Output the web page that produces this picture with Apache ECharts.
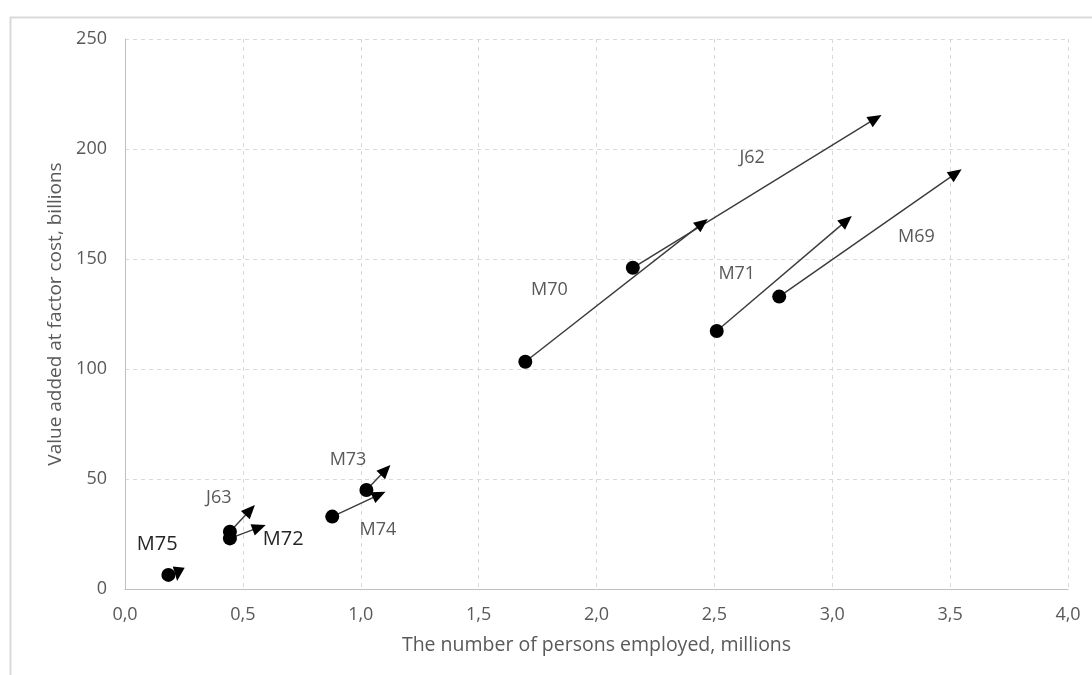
<!DOCTYPE html>
<html>
<head>
<meta charset="utf-8">
<script src="https://cdn.jsdelivr.net/npm/echarts@6/dist/echarts.min.js"></script>
<style>html,body{margin:0;padding:0;background:#fff}#c{width:1092px;height:675px}</style>
</head>
<body>
<div id="c"></div>
<script>
// Industry codes
const names  = ['J62', 'M70', 'M71', 'M69', 'M73', 'M74', 'J63', 'M72', 'M75'];
// Start points (dots): persons employed (millions), value added (billions)
const startX = [2.154, 1.698, 2.510, 2.775, 1.024, 0.879, 0.445, 0.445, 0.184];
const startY = [146.0, 103.3, 117.3, 132.9, 45.0, 32.9, 26.0, 23.0, 6.4];
// Arrow tails (same as dots, except the tiny M75 arrow)
const tailX  = [2.154, 1.698, 2.510, 2.775, 1.024, 0.879, 0.445, 0.445, 0.228];
const tailY  = [146.0, 103.3, 117.3, 132.9, 45.0, 32.9, 26.0, 23.0, 10.0];
// End points (arrow tips)
const endX   = [3.209, 2.472, 3.083, 3.549, 1.126, 1.105, 0.551, 0.597, 0.221];
const endY   = [215.5, 168.2, 169.5, 190.8, 56.4, 44.2, 38.2, 29.1, 3.6];
// Label anchor positions (data coords)
const labelX = [2.66, 1.80, 2.595, 3.357, 0.946, 1.073, 0.398, 0.671, 0.137];
const labelY = [196.0, 136.0, 143.2, 159.9, 58.6, 26.8, 41.2, 22.6, 20.5];
const bigLabels = ['M72', 'M75'];
// Axis ticks
const xTicks = [0, 0.5, 1.0, 1.5, 2.0, 2.5, 3.0, 3.5, 4.0];
const yTicks = [0, 50, 100, 150, 200, 250];

const font = '"Open Sans", "Noto Sans", sans-serif';
const chart = echarts.init(document.getElementById('c'), null, {renderer: 'canvas'});

const arrowData = names.map((n, i) => [tailX[i], tailY[i], endX[i], endY[i]]);
const dotData = names.map((n, i) => [startX[i], startY[i]]);
const labelData = names.map((n, i) => ({
  value: [labelX[i], labelY[i]],
  name: n,
  label: bigLabels.includes(n) ? {fontSize: 20, color: '#262626'} : {}
}));

function renderArrow(params, api) {
  const s = api.coord([api.value(0), api.value(1)]);
  const e = api.coord([api.value(2), api.value(3)]);
  const dx = e[0] - s[0], dy = e[1] - s[1];
  const len = Math.sqrt(dx * dx + dy * dy) || 1;
  const ux = dx / len, uy = dy / len;
  const nx = -uy, ny = ux;
  const L = Math.min(14, len), W = 12;
  const bx = e[0] - ux * L, by = e[1] - uy * L;
  const children = [];
  if (len > L + 1) {
    children.push({type: 'line', shape: {x1: s[0], y1: s[1], x2: bx + ux * 2, y2: by + uy * 2},
      style: {stroke: '#3a3a3a', lineWidth: 1.4}});
  }
  children.push({type: 'polygon',
    shape: {points: [[e[0], e[1]], [bx + nx * W / 2, by + ny * W / 2], [bx - nx * W / 2, by - ny * W / 2]]},
    style: {fill: '#000'}});
  return {type: 'group', children: children};
}

chart.setOption({
  animation: false,
  backgroundColor: '#fff',
  graphic: [{
    type: 'rect', left: 8, top: 15, silent: true,
    shape: {width: 1100, height: 700},
    style: {fill: 'none', stroke: '#d9d9d9', lineWidth: 2}
  }],
  grid: {left: 125, right: 24, top: 39, bottom: 86, containLabel: false},
  xAxis: {
    type: 'value', min: xTicks[0], max: xTicks[xTicks.length - 1], interval: 0.5,
    name: 'The number of persons employed, millions',
    nameLocation: 'middle', nameGap: 46,
    nameTextStyle: {fontFamily: font, fontSize: 19.5, color: '#595959'},
    axisLine: {show: true, lineStyle: {color: '#bfbfbf', width: 1}},
    axisTick: {show: false},
    axisLabel: {fontFamily: font, fontSize: 18, color: '#595959', margin: 17,
      formatter: v => v.toFixed(1).replace('.', ',')},
    splitLine: {show: true, lineStyle: {color: '#d9d9d9', type: [4, 4]}}
  },
  yAxis: {
    type: 'value', min: yTicks[0], max: yTicks[yTicks.length - 1], interval: 50,
    name: 'Value added at factor cost, billions',
    nameLocation: 'middle', nameGap: 60,
    nameTextStyle: {fontFamily: font, fontSize: 19, color: '#595959'},
    axisLine: {show: true, lineStyle: {color: '#bfbfbf', width: 1}},
    axisTick: {show: false},
    axisLabel: {fontFamily: font, fontSize: 18, color: '#595959', margin: 18},
    splitLine: {show: true, lineStyle: {color: '#d9d9d9', type: [4, 4]}}
  },
  series: [
    {
      type: 'custom', z: 3, renderItem: renderArrow,
      encode: {x: [0, 2], y: [1, 3]},
      data: arrowData
    },
    {
      type: 'scatter', z: 4, symbol: 'circle', symbolSize: 14,
      itemStyle: {color: '#000', opacity: 1},
      data: dotData
    },
    {
      type: 'scatter', z: 5, symbolSize: 1,
      itemStyle: {color: 'rgba(0,0,0,0)', opacity: 1},
      label: {show: true, position: 'inside', formatter: p => p.name,
        fontFamily: font, fontSize: 18, color: '#595959'},
      emphasis: {disabled: true},
      data: labelData
    }
  ]
});
</script>
</body>
</html>
